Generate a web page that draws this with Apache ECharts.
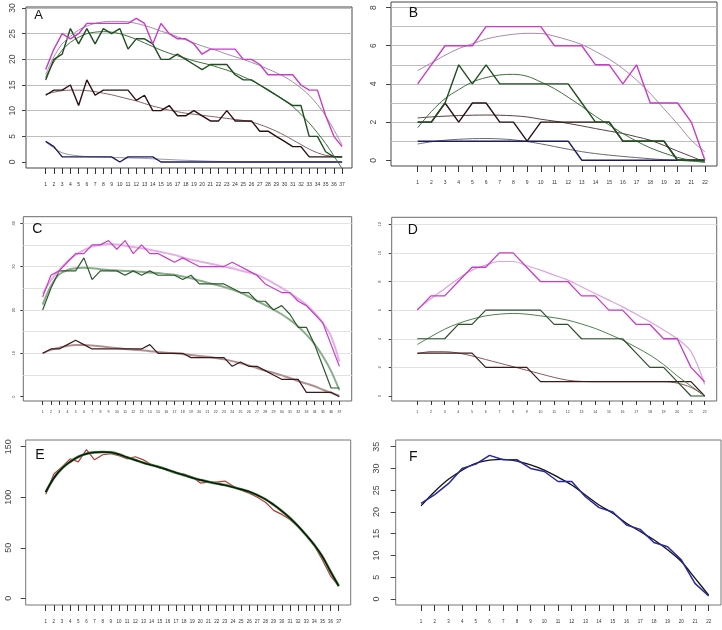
<!DOCTYPE html>
<html><head><meta charset="utf-8">
<script src="https://cdn.jsdelivr.net/npm/echarts@6/dist/echarts.min.js"></script>
<style>html,body{margin:0;padding:0;background:#fff}#c{width:722px;height:630px}</style>
</head><body><div id="c"></div><script>
// ---------- categories / tick labels ----------
const cats37 = [1,2,3,4,5,6,7,8,9,10,11,12,13,14,15,16,17,18,19,20,21,22,23,24,25,26,27,28,29,30,31,32,33,34,35,36,37];
const cats22 = [1,2,3,4,5,6,7,8,9,10,11,12,13,14,15,16,17,18,19,20,21,22];
const yTicksA = [0,5,10,15,20,25,30];
const gridA = [5,10,15,20,25,30];
const yTicksB = [0,2,4,6,8];
const gridB = [1,2,3,4,5,6,7,8];
const yTicksC = [0,10,20,30,40];
const gridC = [5,10,15,20,25,30,35,40];
const yTicksD = [0,2,4,6,8,10,12];
const gridD = [2,4,6,8,10,12];
const yTicksE = [0,50,100,150];
const yTicksF = [0,5,10,15,20,25,30,35];

// ---------- panel A ----------
const A_mag = [18,22,25,24,25,27,27,27,27,27,27,28,27,23,27,25,24,24,23,21,22,22,22,22,20,20,19,17,17,17,17,15,14,14,9,5,3];
const A_magFit = [17,20.5,23,24.5,25.7,26.5,27,27.3,27.4,27.4,27.3,27,26.6,26.1,25.5,25,24.4,23.8,23.2,22.6,22.1,21.6,21,20.5,20,19.4,18.8,18.1,17.4,16.6,15.6,14.4,13,11.2,9,6.3,3.3];
const A_grn = [16,20,21,26,23,26,23,26,25,26,22,24,24,23,20,20,21,20,19,18,19,19,19,17,16,16,15,14,13,12,11,11,5,5,2,1,1];
const A_grnFit = [16.5,19.5,21.8,23.3,24.3,25,25.3,25.4,25.3,25,24.5,23.9,23.2,22.5,21.8,21.2,20.7,20.2,19.7,19.3,18.9,18.4,17.9,17.3,16.6,15.9,15,14.1,13.1,12,10.8,9.3,7.6,5.7,3.6,1.2,-1.3];
const A_brn = [13,14,14,15,11,16,13,14,14,14,14,12,13,10,10,11,9,9,10,9,8,8,10,8,8,8,6,6,5,4,3,3,1,1,1,1,1];
const A_brnFit = [13.2,13.6,13.9,14,14,13.9,13.7,13.4,13.1,12.7,12.3,11.9,11.4,10.9,10.5,10.1,9.8,9.5,9.3,9.1,8.9,8.7,8.5,8.3,8.1,7.8,7.3,6.7,6,5.2,4.3,3.4,2.5,1.8,1.3,1.1,1];
const A_nav = [4,3,1,1,1,1,1,1,1,0,1,1,1,1,0,0,0,0,0,0,0,0,0,0,0,0,0,0,0,0,0,0,0,0,0,0,0];
const A_navFit = [3.9,2.7,1.8,1.4,1.2,1.05,1,0.95,0.9,0.85,0.8,0.75,0.7,0.62,0.55,0.48,0.4,0.33,0.27,0.2,0.15,0.1,0.06,0.03,0,0,0,0,0,0,0,0,0,0,0,0,0];

// ---------- panel B ----------
const B_mag = [4,5,6,6,6,7,7,7,7,7,6,6,6,5,5,4,5,3,3,3,2,0];
const B_magFit = [4.7,5.1,5.5,5.85,6.1,6.35,6.5,6.6,6.65,6.64,6.5,6.3,6.06,5.7,5.3,4.8,4.2,3.5,2.7,1.9,1.05,0.44];
const B_grn = [2,2,3,5,4,5,4,4,4,4,4,4,3,2,2,1,1,1,1,0,0,0];
const B_grnFit = [1.7,2.55,3.23,3.7,4.1,4.33,4.47,4.5,4.4,4.1,3.75,3.3,2.82,2.3,1.85,1.4,1.0,0.65,0.38,0.15,0,-0.1];
const B_brn = [2,2,3,2,3,3,2,2,1,2,2,2,2,2,2,1,1,1,1,0,0,0];
const B_brnFit = [2.22,2.27,2.31,2.34,2.36,2.37,2.36,2.33,2.27,2.15,2.05,1.93,1.8,1.66,1.53,1.4,1.23,1.05,0.78,0.48,0.2,-0.1];
const B_nav = [1,1,1,1,1,1,1,1,1,1,1,1,0,0,0,0,0,0,0,0,0,0];
const B_navFit = [0.85,0.97,1.05,1.1,1.13,1.14,1.12,1.07,0.98,0.86,0.72,0.58,0.45,0.35,0.27,0.2,0.14,0.08,0.03,0,-0.05,-0.1];

// ---------- panel C ----------
const C_mag = [23,28,29,31,33,33,35,35,36,34,36,33,35,33,33,32,31,32,31,30,30,30,30,31,30,29,28,26,25,24,24,22,21,19,17,12,7];
const C_magFit = [23.8,26.8,29.2,31.2,32.7,33.8,34.6,35,35.2,35.1,34.8,34.5,34.2,33.9,33.5,33.1,32.7,32.1,31.6,31.2,30.8,30.4,30,29.6,29.1,28.6,28.1,27.2,26.2,25.1,23.9,22.6,21.2,19.3,17,13.9,8.1];
const C_grn = [20,25,29,29,29,32,27,29,29,29,28,29,28,29,28,28,28,27,28,26,26,26,26,25,24,24,22,22,20,21,19,16,16,12,7,2,2];
const C_grnFit = [21.2,25.5,28.2,29.2,29.6,29.7,29.6,29.4,29.2,29.1,29,28.9,28.8,28.6,28.5,28.3,28.1,27.7,27.3,26.8,26.3,25.8,25.3,24.7,24,23.1,22.1,21.1,20.1,19,17.7,16.2,14.3,12.1,9.3,5.9,1.5];
const C_brn = [10,11,11,12,13,12,11,11,11,11,11,11,11,12,10,10,10,10,9,9,9,9,9,7,8,7,7,6,5,4,4,4,1,1,1,1,0];
const C_brnFit = [10,10.8,11.3,11.7,11.9,11.9,11.8,11.6,11.4,11.2,11,10.8,10.7,10.5,10.3,10.1,10,9.8,9.6,9.4,9.2,8.9,8.6,8.2,7.7,7.2,6.6,6,5.5,4.9,4.3,3.6,3,2.4,1.6,0.9,0.2];

// ---------- panel D ----------
const D_mag = [6,7,7,8,9,9,10,10,9,8,8,8,7,7,6,6,5,5,4,4,2,1];
const D_magFit = [6.07,6.8,7.5,8.2,8.8,9.15,9.4,9.4,9.1,8.8,8.45,8.1,7.63,7.16,6.7,6.23,5.72,5.19,4.62,4.0,3.1,0.8];
const D_grn = [4,4,4,5,5,6,6,6,6,6,5,5,4,4,4,4,3,2,2,1,0,0];
const D_grnFit = [3.6,4.15,4.67,5.07,5.37,5.6,5.72,5.77,5.72,5.6,5.47,5.3,5.03,4.72,4.33,3.9,3.4,2.86,2.2,1.4,0.7,0];
const D_brn = [3,3,3,3,3,2,2,2,2,1,1,1,1,1,1,1,1,1,1,1,1,0];
const D_brnFit = [2.95,3.1,3.1,3,2.8,2.55,2.3,2.05,1.8,1.55,1.3,1.1,1.02,1,1,1,1,1,1,0.9,0.6,0];

// ---------- panel E ----------
const E_obs = [103,123,130,138,135,147,137,142,143,141,138,140,137,132,129,127,124,123,120,114,115,115,116,111,107,104,100,95,87,83,78,71,62,52,38,22,12];
const E_fit = [105,119,128.6,135,140,143,144.4,144.7,144.4,142.4,139.5,136.8,134,131.8,129.6,127,124.3,121.8,119.3,117,115.2,113.5,112,110,107.8,105.5,102,98,92.5,86.4,79.5,71.5,62.5,52.8,41.2,26.4,12.2];

// ---------- panel F ----------
const F_obs = [22,24,26.5,30,31,33,32,32,30,29.3,27,27,23.5,21,20,17,16,13,12,9,3.6,0.7];
const F_fit = [21.4,24.7,27.5,29.6,31.2,31.9,32.1,31.7,30.8,29.6,28,26.2,23.9,21.6,19.7,17.4,15.5,13.6,11.3,8.6,4.8,0.9];

// ---------- layout / styles ----------
const MAG='#c83cc8', GRN='#1f4f1f', BRN='#2a1010', NAV='#1b1b60';
const panels = [
 {cats:cats37, box:[26,7,352,168], x:[-1.39,38.2], y:[-1.17,30.2], yt:yTicksA, gl:gridA, gc:'#bdbdbd', bc:'#474747',
  yf:8.5, ym:9, ytl:4, xf:5, xm:14, xtl:6, L:'A', lx:38.7, ly:15, ls:13,
  lines:[[A_navFit,'#9a9a9a',1,1],[A_nav,NAV,1.4,0],[A_brnFit,'#8a6262',1,1],[A_brn,BRN,1.4,0],[A_grnFit,'#3f6f3f',1,1],[A_grn,GRN,1.4,0],[A_magFit,'#a98aa9',1,1],[A_mag,MAG,1.4,0]]},
 {cats:cats22, box:[391,2,717,166], x:[-0.95,22.88], y:[-0.3,8.29], yt:yTicksB, gl:gridB, gc:'#bdbdbd', bc:'#474747',
  yf:8.5, ym:13, ytl:5, xf:5, xm:14, xtl:6, L:'B', lx:413.3, ly:13.3, ls:14,
  lines:[[B_navFit,'#6a6a6a',1,1],[B_nav,NAV,1.4,0],[B_brnFit,'#5a4040',1,1],[B_brn,BRN,1.4,0],[B_grnFit,'#3f6f3f',1,1],[B_grn,GRN,1.4,0],[B_magFit,'#a98aa9',1,1],[B_mag,MAG,1.4,0]]},
 {cats:cats37, box:[23.3,216.7,351.7,401], x:[-1.35,38.5], y:[-1.0,41.5], yt:yTicksC, gl:gridC, gc:'#e2e2e2', bc:'#6a6a6a',
  yf:4, ym:7, ytl:3, xf:3.5, xm:9, xtl:4, L:'C', lx:37.3, ly:229, ls:14,
  lines:[[C_brnFit,'#b09090',2,1],[C_brn,'#3a1a1a',1.2,0],[C_grnFit,'#8aae8a',2,1],[C_grn,'#2e5a2e',1.2,0],[C_magFit,'#e6aee6',2,1],[C_mag,MAG,1.2,0]]},
 {cats:cats22, box:[391.7,217.3,716.7,401], x:[-0.87,22.88], y:[-0.35,12.49], yt:yTicksD, gl:gridD, gc:'#e2e2e2', bc:'#6a6a6a',
  yf:4, ym:9.5, ytl:3, xf:3.5, xm:9, xtl:4, L:'D', lx:412.7, ly:230, ls:14,
  lines:[[D_brnFit,'#8a5a5a',1,1],[D_brn,'#3a1a1a',1.2,0],[D_grnFit,'#4f7f4f',1,1],[D_grn,'#2c4f2c',1.2,0],[D_magFit,'#dca4dc',1.2,1],[D_mag,MAG,1.3,0]]},
 {cats:cats37, box:[25.7,440,350.7,605], x:[-1.46,38.47], y:[-6.6,156.6], yt:yTicksE, gl:[], gc:'#ddd', bc:'#777',
  yf:9, ym:13, ytl:5, xf:4.5, xm:14, xtl:6, L:'E', lx:40, ly:455, ls:14,
  lines:[[E_obs,'#b23a3a',1.2,0],[E_fit,'#3a8a3a',2.6,1],[E_fit,'#111111',1.4,1]]},
 {cats:cats22, box:[395.7,440,721,605], x:[-0.85,22.9], y:[-1.38,36.54], yt:yTicksF, gl:[], gc:'#ddd', bc:'#777',
  yf:9, ym:15, ytl:5, xf:4.5, xm:14, xtl:6, L:'F', lx:413.3, ly:457.3, ls:14,
  lines:[[F_fit,'#111111',1.3,1],[F_obs,'#2828a0',1.5,0]]}
];

const grids=[], xAxes=[], yAxes=[], series=[], graphics=[];
panels.forEach((p,k)=>{
  const [l,t,r,b]=p.box;
  grids.push({left:l, top:t, width:r-l, height:b-t, show:true, borderColor:p.bc, borderWidth:1,
              backgroundColor:'transparent', containLabel:false, outerBoundsMode:'none'});
  xAxes.push({gridIndex:k, type:'value', position:'bottom', min:p.x[0], max:p.x[1],
    axisLine:{show:false, onZero:false},
    axisTick:{show:true, length:p.xtl, customValues:p.cats, lineStyle:{color:'#333', width:1}},
    axisLabel:{customValues:p.cats, fontSize:p.xf, margin:p.xm, color:'#333'},
    splitLine:{show:false}});
  yAxes.push({gridIndex:k, type:'value', position:'left', min:p.y[0], max:p.y[1],
    axisLine:{show:false, onZero:false},
    axisTick:{show:true, length:p.ytl, customValues:p.yt, lineStyle:{color:'#444', width:1}},
    axisLabel:{customValues:p.yt, fontSize:p.yf, margin:p.ym, rotate:90, color:'#444'},
    splitLine:{show:false}});
  if (p.gl.length) {
    series.push({type:'line', xAxisIndex:k, yAxisIndex:k, data:[], silent:true,
      markLine:{silent:true, z:1, symbol:['none','none'], label:{show:false},
        lineStyle:{color:p.gc, width:1, type:'solid'}, emphasis:{disabled:true},
        data:p.gl.map(v=>({yAxis:v})), animation:false}});
  }
  p.lines.forEach(([vals,color,w,smooth],j)=>{
    series.push({type:'line', xAxisIndex:k, yAxisIndex:k, silent:true, symbol:'none',
      smooth: smooth ? 0.35 : false, z: 2+j,
      data:p.cats.map((c,i)=>[c, vals[i]]),
      lineStyle:{color, width:w}});
  });
  graphics.push({type:'text', x:p.lx, y:p.ly, z:10,
    style:{text:p.L, fontSize:p.ls, fontFamily:'Liberation Sans, Arial, sans-serif', fill:'#111', align:'center', verticalAlign:'middle'}});
});

const chart = echarts.init(document.getElementById('c'), null, {renderer:'canvas'});
chart.setOption({
  animation:false,
  backgroundColor:'#fff',
  textStyle:{fontFamily:'Liberation Sans, Arial, sans-serif'},
  grid:grids, xAxis:xAxes, yAxis:yAxes, series, graphic:graphics
});
</script></body></html>
